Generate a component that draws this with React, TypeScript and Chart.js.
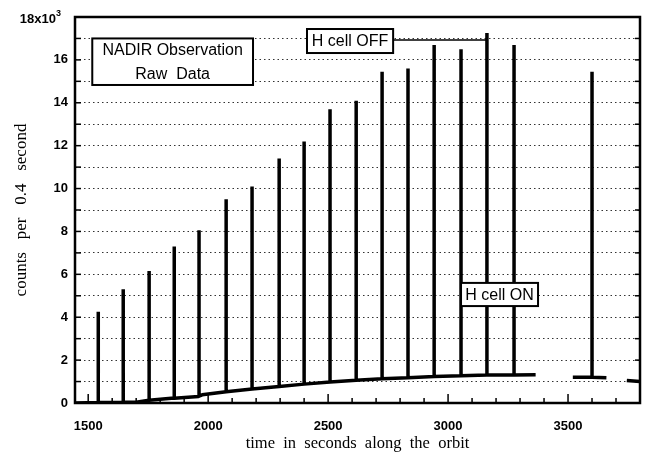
import React, { useEffect, useRef } from 'react';
import { Chart, registerables } from 'chart.js';
Chart.register(...registerables);

// Spike (H cell OFF) times, peak counts and the baseline under each spike
const spikeTimes = [1542, 1646, 1754, 1858, 1962, 2075, 2183, 2296, 2400, 2508, 2617, 2725, 2833, 2942, 3054, 3162, 3275, 3600];
const spikePeaks = [4250, 5300, 6150, 7300, 8050, 9500, 10100, 11400, 12200, 13700, 14100, 15450, 15600, 16700, 16500, 17250, 16700, 15450];
const spikeBases = [20, 40, 130, 230, 320, 520, 650, 770, 880, 980, 1060, 1130, 1180, 1230, 1270, 1300, 1310, 1200];

// Baseline (H cell ON) segments
const base1Times = [1445, 1600, 1700, 1740, 1860, 1960, 1975, 2075, 2183, 2296, 2400, 2508, 2617, 2725, 2833, 2942, 3054, 3162, 3275, 3365];
const base1Values = [0, 20, 40, 110, 220, 300, 380, 520, 650, 770, 880, 980, 1060, 1130, 1180, 1230, 1270, 1300, 1310, 1320];
const base2Times = [3520, 3600, 3660];
const base2Values = [1200, 1200, 1180];
const base3Times = [3745, 3800];
const base3Values = [1050, 1000];

const xTickLabels = [1500, 2000, 2500, 3000, 3500];
const yTickLabels = [0, 2000, 4000, 6000, 8000, 10000, 12000, 14000, 16000];

type P = { x: number; y: number | null };

function buildData(): P[] {
  const segs: [number[], number[]][] = [
    [base1Times, base1Values],
    [base2Times, base2Values],
    [base3Times, base3Values],
  ];
  const out: P[] = [];
  segs.forEach(([ts, vs], si) => {
    const pts: P[] = ts.map((t, i) => ({ x: t, y: vs[i] }));
    const lo = ts[0];
    const hi = ts[ts.length - 1];
    spikeTimes.forEach((t, i) => {
      if (t >= lo && t <= hi) {
        pts.push({ x: t, y: spikeBases[i] });
        pts.push({ x: t, y: spikePeaks[i] });
        pts.push({ x: t, y: spikeBases[i] });
      }
    });
    const sorted = pts
      .map((p, i) => ({ p, i }))
      .sort((a, b) => a.p.x - b.p.x || a.i - b.i)
      .map((o) => o.p);
    out.push(...sorted);
    if (si < segs.length - 1) out.push({ x: (hi + segs[si + 1][0][0]) / 2, y: null });
  });
  return out;
}

const decor = {
  id: 'decor',
  afterDatasetsDraw(chart: any) {
    const { ctx, chartArea: a, scales } = chart;
    const x = scales.x;
    const y = scales.y;
    const line = (x1: number, y1: number, x2: number, y2: number) => {
      ctx.beginPath();
      ctx.moveTo(x1, y1);
      ctx.lineTo(x2, y2);
      ctx.stroke();
    };
    ctx.save();
    ctx.strokeStyle = '#000';
    ctx.lineWidth = 1.5;
    for (let t = 1500; t <= 3700; t += 100) {
      const px = x.getPixelForValue(t);
      line(px, a.bottom, px, a.bottom - (t % 500 === 0 ? 9 : 5));
    }
    for (let v = 1000; v < 18000; v += 1000) {
      const py = y.getPixelForValue(v);
      line(a.left, py, a.left + 6, py);
      line(a.right, py, a.right - 5, py);
    }
    ctx.lineWidth = 2.5;
    ctx.strokeRect(a.left, a.top, a.right - a.left, a.bottom - a.top);

    // 18x10^3 label
    ctx.fillStyle = '#000';
    ctx.font = 'bold 13px "Liberation Sans", Arial, sans-serif';
    ctx.textAlign = 'right';
    ctx.textBaseline = 'alphabetic';
    ctx.fillText('18x10', a.left - 19, a.top + 6);
    ctx.font = 'bold 9px "Liberation Sans", Arial, sans-serif';
    ctx.textAlign = 'left';
    ctx.fillText('3', a.left - 19, a.top - 1);

    const box = (x1: number, x2: number, y1: number, y2: number, lines: string[], fs: number) => {
      const l = x.getPixelForValue(x1);
      const r = x.getPixelForValue(x2);
      const t = y.getPixelForValue(y1);
      const b = y.getPixelForValue(y2);
      ctx.fillStyle = '#fff';
      ctx.fillRect(l, t, r - l, b - t);
      ctx.lineWidth = 2;
      ctx.strokeStyle = '#000';
      ctx.strokeRect(l, t, r - l, b - t);
      ctx.fillStyle = '#000';
      ctx.font = `${fs}px "Liberation Sans", Arial, sans-serif`;
      ctx.textAlign = 'center';
      ctx.textBaseline = 'middle';
      const h = (b - t) / lines.length;
      lines.forEach((s, i) => ctx.fillText(s, (l + r) / 2, t + h * (i + 0.5) + 1));
      return { l, r, t, b };
    };
    box(1517, 2187, 17000, 14830, ['NADIR Observation', 'Raw  Data'], 16);
    const off = box(2412, 2771, 17440, 16320, ['H cell OFF'], 16);
    ctx.lineWidth = 1.5;
    const ly = (off.t + off.b) / 2 - 1;
    line(off.r, ly, x.getPixelForValue(spikeTimes[15]), ly);
    box(3054, 3375, 5600, 4520, ['H cell ON'], 16);
    ctx.restore();
  },
};

export default function App() {
  const ref = useRef<HTMLCanvasElement>(null);
  useEffect(() => {
    const chart = new Chart(ref.current!, {
      type: 'line',
      data: {
        datasets: [
          {
            data: buildData() as any,
            borderColor: '#000',
            borderWidth: 3.5,
            pointRadius: 0,
            tension: 0,
            spanGaps: false,
            borderJoinStyle: 'bevel',
          },
        ],
      },
      options: {
        animation: false,
        responsive: false,
        layout: { padding: { top: 17, right: 9, left: 0, bottom: 0 } },
        plugins: { legend: { display: false }, tooltip: { enabled: false } },
        scales: {
          x: {
            type: 'linear',
            min: 1445,
            max: 3800,
            afterBuildTicks: (s: any) => {
              s.ticks = xTickLabels.map((v) => ({ value: v }));
            },
            afterFit: (s: any) => {
              s.height = 60;
            },
            grid: { display: false },
            border: { display: false },
            ticks: {
              color: '#000',
              padding: 8,
              maxRotation: 0,
              callback: (v: any) => String(v),
              font: { family: '"Liberation Sans", Arial, sans-serif', size: 13, weight: 'bold' },
            },
            title: {
              display: true,
              text: 'time  in  seconds  along  the  orbit',
              color: '#000',
              font: { family: '"Liberation Serif", "Times New Roman", serif', size: 16.5 },
              padding: { top: 0, bottom: 9 },
            },
          },
          y: {
            min: 0,
            max: 18000,
            afterBuildTicks: (s: any) => {
              const t: any[] = [];
              for (let v = 0; v <= 18000; v += 1000) t.push({ value: v });
              s.ticks = t;
            },
            afterFit: (s: any) => {
              s.width = 75;
            },
            grid: { color: '#333', lineWidth: 1, drawTicks: false },
            border: { display: false, dash: [1.5, 3] },
            ticks: {
              color: '#000',
              padding: 7,
              autoSkip: false,
              callback: (v: any) => (yTickLabels.includes(v) ? String(v / 1000) : ''),
              font: { family: '"Liberation Sans", Arial, sans-serif', size: 13, weight: 'bold' },
            },
            title: {
              display: true,
              text: 'counts   per   0.4   second',
              color: '#000',
              font: { family: '"Liberation Serif", "Times New Roman", serif', size: 17 },
              padding: { top: 11, bottom: 0 },
            },
          },
        },
      },
      plugins: [decor],
    });
    return () => chart.destroy();
  }, []);
  return (
    <div style={{ position: 'absolute', left: 0, top: 0, width: 649, height: 463, background: '#fff' }}>
      <canvas ref={ref} width={649} height={463} />
    </div>
  );
}
